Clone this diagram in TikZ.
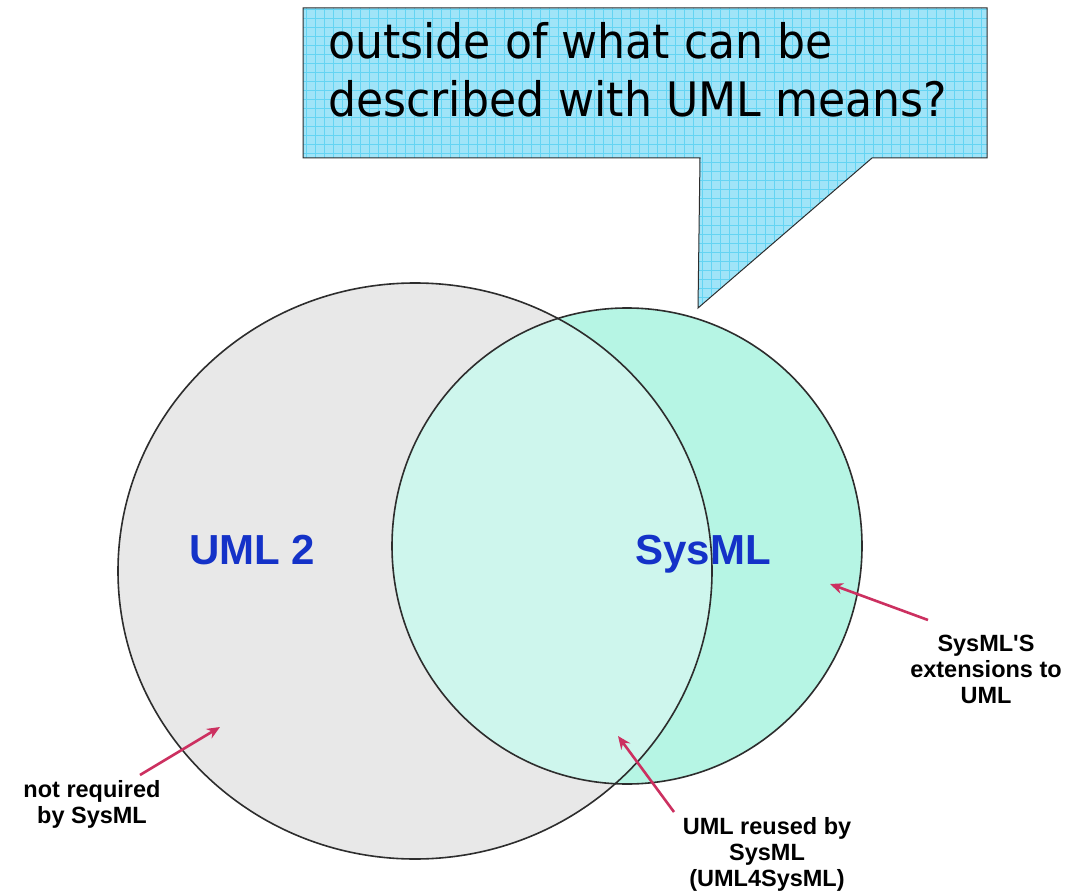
\documentclass[tikz,border=0pt]{standalone}
\usepackage{fontspec}
\setmainfont{Liberation Sans}
\newfontfamily\labfont{Liberation Sans}
\newfontfamily\callfont[FakeStretch=0.93]{DejaVu Sans}
\usetikzlibrary{shapes.geometric,arrows.meta}
\definecolor{umlgray}{RGB}{232,232,232}
\definecolor{mint}{RGB}{182,245,228}
\definecolor{mintlight}{RGB}{206,246,237}
\definecolor{callcyan}{RGB}{160,228,248}
\definecolor{callgrid}{RGB}{100,212,243}
\definecolor{lblblue}{RGB}{20,50,200}
\definecolor{arrred}{RGB}{204,48,96}
\definecolor{outl}{RGB}{45,45,45}
\tikzset{
  setfill/.style={ellipse, inner sep=0pt, outer sep=0pt},
  outline/.style={draw=outl, line width=1.6pt},
  biglab/.style={font=\labfont\bfseries\fontsize{42}{48}\selectfont, text=lblblue, inner sep=0pt},
  lab/.style={font=\labfont\bfseries\fontsize{23.5}{26}\selectfont, align=center, inner sep=0pt},
  arr/.style={draw=arrred, line width=2.6pt, -{Stealth[length=13pt,width=11pt]}},
  callbox/.style={draw=outl, line width=1pt, line join=miter}
}
\begin{document}
\begin{tikzpicture}[x=1pt,y=-1pt]
\useasboundingbox (0,0) rectangle (1068,896);
\fill[white] (0,0) rectangle (1068,896);
% callout
\fill[callcyan] (303,8) -- (987,8) -- (987,158) -- (872,158) -- (698,308) -- (700,158) -- (303,158) -- cycle;
\begin{scope}
  \clip (303,8) -- (987,8) -- (987,158) -- (872,158) -- (698,308) -- (700,158) -- (303,158) -- cycle;
  \draw[callgrid, line width=0.8pt, step=9pt] (300,5) grid (990,310);
\end{scope}
\draw[callbox] (303,8) -- (987,8) -- (987,158) -- (872,158) -- (698,308) -- (700,158) -- (303,158) -- cycle;
\node[anchor=base west, inner sep=0pt, font=\callfont\fontsize{47.5}{58}\selectfont] (q1) at (328,59) {outside of what can be};
\node[anchor=base west, inner sep=0pt, font=\callfont\fontsize{47.5}{58}\selectfont] (q2) at (328,117) {described with UML means?};
% sets
\node[setfill, fill=umlgray, minimum width=594pt, minimum height=576pt] (uml) at (415,571) {};
\node[setfill, fill=mint, minimum width=470pt, minimum height=476pt] (sysml) at (627,546) {};
\begin{scope}
  \clip (uml.center) ellipse [x radius=297pt, y radius=288pt];
  \fill[mintlight] (sysml.center) ellipse [x radius=235pt, y radius=238pt];
\end{scope}
\draw[outline] (uml.center) ellipse [x radius=297pt, y radius=288pt];
\draw[outline] (sysml.center) ellipse [x radius=235pt, y radius=238pt];
% big labels
\node[biglab, anchor=base] (umltxt) at (252,564) {UML 2};
\node[biglab, anchor=base] (systxt) at (703,564) {SysML};
% small labels
\node[lab] (nr) at (92,804) {not required\\by SysML};
\node[lab] (ur) at (767,854) {UML reused by\\SysML\\(UML4SysML)};
\node[lab] (ext) at (986,669) {SysML'S\\extensions to\\UML};
% arrows
\coordinate (nrt) at (140,775); \coordinate (nrh) at (220,727);
\coordinate (urt) at (674,812); \coordinate (urh) at (618,736);
\coordinate (ext1) at (928,620); \coordinate (exh) at (830,584);
\draw[arr] (nrt) -- (nrh);
\draw[arr] (urt) -- (urh);
\draw[arr] (ext1) -- (exh);
\end{tikzpicture}
\end{document}
